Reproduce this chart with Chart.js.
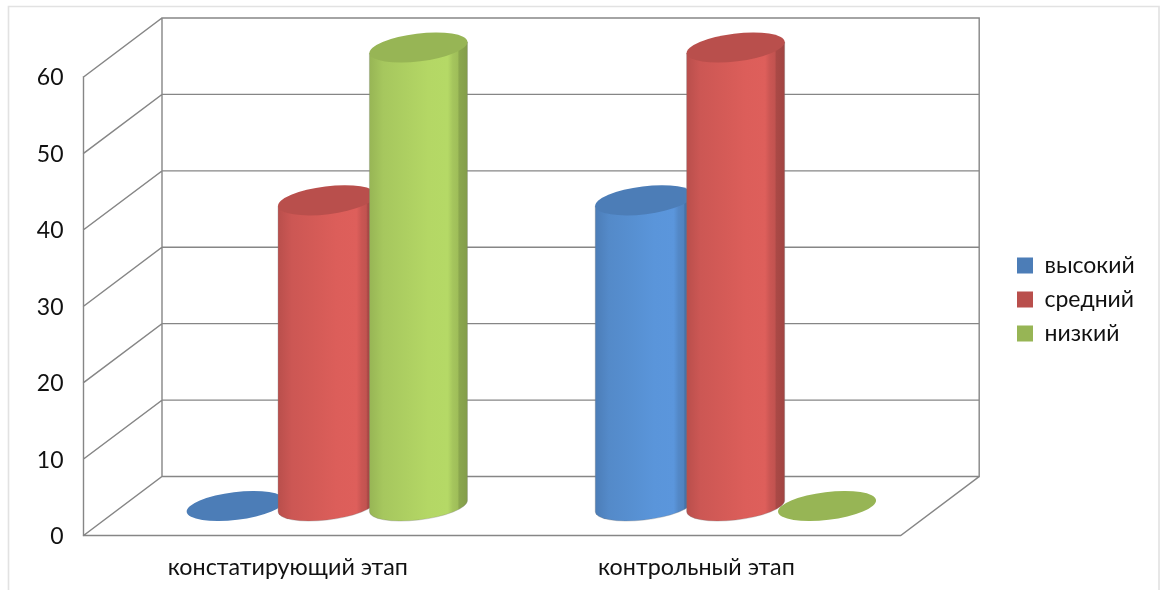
<!DOCTYPE html>
<html lang="ru">
<head>
<meta charset="utf-8">
<title>Уровни по этапам</title>
<script src="https://cdn.jsdelivr.net/npm/chart.js@4"></script>
<style>
  html, body { margin: 0; padding: 0; background: #fff; }
  canvas { display: block; }
</style>
</head>
<body>
<canvas id="chart" width="1163" height="590"></canvas>
<script>
// Data
const categories = ['констатирующий этап', 'контрольный этап'];
const highValues = [0, 40];
const midValues = [40, 60];
const lowValues = [60, 0];
const seriesNames = ['высокий', 'средний', 'низкий'];
const seriesColors = ['#4C7DB7', '#B94F4C', '#97B555'];

// Oblique projection of the plot box
const DEPTH_X = 78.5;
const DEPTH_Y = 59;
const LINE = '#868686';
const FONT = 'Lato, "Open Sans", sans-serif';

// Brightness across a cylinder body, left edge to right edge
const SHADE = [[0, 1], [0.14, 1.1], [0.4, 1.15], [0.6, 1.19], [0.8, 1.2],
               [0.85, 1.09], [0.9, 1.05], [0.915, 0.92], [1, 0.87]];

function shade(hex, k) {
  const n = parseInt(hex.slice(1), 16);
  const c = [n >> 16, (n >> 8) & 255, n & 255].map(v => Math.min(255, Math.round(v * k)));
  return `rgb(${c[0]},${c[1]},${c[2]})`;
}

function drawCylinder(ctx, el, color) {
  const cx = el.x + DEPTH_X / 2;
  const topY = el.y - DEPTH_Y / 2;
  const baseY = el.base - DEPTH_Y / 2;
  const rx = el.width * 0.54;
  const ry = rx * 0.282;
  const rot = -7 * Math.PI / 180;

  // Ellipse parameter at the vertical tangents, where the body edges meet the caps
  const t0 = Math.atan2(-ry * Math.sin(rot), rx * Math.cos(rot));
  const tx = rx * Math.cos(t0) * Math.cos(rot) - ry * Math.sin(t0) * Math.sin(rot);
  const ty = rx * Math.cos(t0) * Math.sin(rot) + ry * Math.sin(t0) * Math.cos(rot);

  if (baseY - topY > 0.5) {
    const g = ctx.createLinearGradient(cx - tx, 0, cx + tx, 0);
    SHADE.forEach(([p, k]) => g.addColorStop(p, shade(color, k)));
    ctx.beginPath();
    ctx.moveTo(cx - tx, topY - ty);
    ctx.lineTo(cx - tx, baseY - ty);
    ctx.ellipse(cx, baseY, rx, ry, rot, Math.PI + t0, t0, true);
    ctx.lineTo(cx + tx, topY + ty);
    ctx.closePath();
    ctx.fillStyle = g;
    ctx.fill();
    ctx.strokeStyle = 'rgba(120,120,120,0.3)';
    ctx.lineWidth = 1;
    ctx.stroke();
  }
  ctx.beginPath();
  ctx.ellipse(cx, topY, rx, ry, rot, 0, Math.PI * 2);
  ctx.fillStyle = color;
  ctx.fill();
}

const box3d = {
  id: 'box3d',
  afterLayout(chart) {
    // Legend sits to the right of the projected back wall
    const legend = chart.legend;
    const w = legend.width, h = legend.height;
    legend.left = 1006;
    legend.right = legend.left + w;
    legend.top = 243;
    legend.bottom = legend.top + h;
  },
  beforeDraw(chart) {
    const ctx = chart.ctx;
    ctx.save();
    ctx.strokeStyle = '#e2e2e2';
    ctx.lineWidth = 1.6;
    ctx.beginPath();
    ctx.moveTo(8.5, 590);
    ctx.lineTo(8.5, 6.5);
    ctx.lineTo(1159, 6.5);
    ctx.lineTo(1159, 590);
    ctx.stroke();
    ctx.restore();
  },
  beforeDatasetsDraw(chart) {
    const { ctx, chartArea: a, scales: { y } } = chart;
    ctx.save();
    ctx.strokeStyle = LINE;
    ctx.lineWidth = 1.4;
    ctx.lineCap = 'square';
    const bx = a.left + DEPTH_X, rx = a.right + DEPTH_X;
    ctx.beginPath();
    // Side wall and back wall rulings at each tick
    y.ticks.forEach(t => {
      const py = y.getPixelForValue(t.value);
      ctx.moveTo(a.left, py);
      ctx.lineTo(bx, py - DEPTH_Y);
      ctx.lineTo(rx, py - DEPTH_Y);
    });
    // Front and back uprights
    ctx.moveTo(a.left, a.top);
    ctx.lineTo(a.left, a.bottom);
    ctx.moveTo(bx, a.top - DEPTH_Y);
    ctx.lineTo(bx, a.bottom - DEPTH_Y);
    ctx.moveTo(rx, a.top - DEPTH_Y);
    ctx.lineTo(rx, a.bottom - DEPTH_Y);
    // Floor outline
    ctx.moveTo(a.left, a.bottom);
    ctx.lineTo(a.right, a.bottom);
    ctx.lineTo(rx, a.bottom - DEPTH_Y);
    ctx.stroke();
    ctx.restore();
  },
  // Built-in flat bars are replaced by cylinders drawn after all datasets
  beforeDatasetDraw() { return false; },
  afterDatasetsDraw(chart) {
    const ctx = chart.ctx;
    ctx.save();
    chart.data.datasets.forEach((ds, i) => {
      chart.getDatasetMeta(i).data.forEach(el => drawCylinder(ctx, el, ds.backgroundColor));
    });
    ctx.restore();
  }
};

new Chart(document.getElementById('chart'), {
  type: 'bar',
  data: {
    labels: categories,
    datasets: [highValues, midValues, lowValues].map((values, i) => ({
      label: seriesNames[i],
      data: values,
      backgroundColor: seriesColors[i],
      borderWidth: 0,
      categoryPercentage: 0.671,
      barPercentage: 1
    }))
  },
  plugins: [box3d],
  options: {
    responsive: false,
    animation: false,
    layout: { padding: { top: 77, right: 123.6, bottom: 0, left: 0 } },
    plugins: {
      title: { display: false },
      tooltip: { enabled: false },
      legend: {
        position: 'right',
        align: 'start',
        labels: {
          boxWidth: 16,
          boxHeight: 16,
          padding: 11,
          color: '#111',
          font: { family: FONT, size: 23 }
        }
      }
    },
    scales: {
      x: {
        grid: { display: false },
        border: { display: false },
        afterFit(s) { s.height = 54.5; },
        ticks: { color: '#111', padding: 10, maxRotation: 0, font: { family: FONT, size: 23.3 } }
      },
      y: {
        min: 0,
        max: 60,
        grid: { display: false, drawTicks: false },
        border: { display: false },
        afterFit(s) { s.width = 83.5; },
        ticks: { stepSize: 10, color: '#111', padding: 20, labelOffset: 1, font: { family: FONT, size: 23 } }
      }
    }
  }
});
</script>
</body>
</html>
